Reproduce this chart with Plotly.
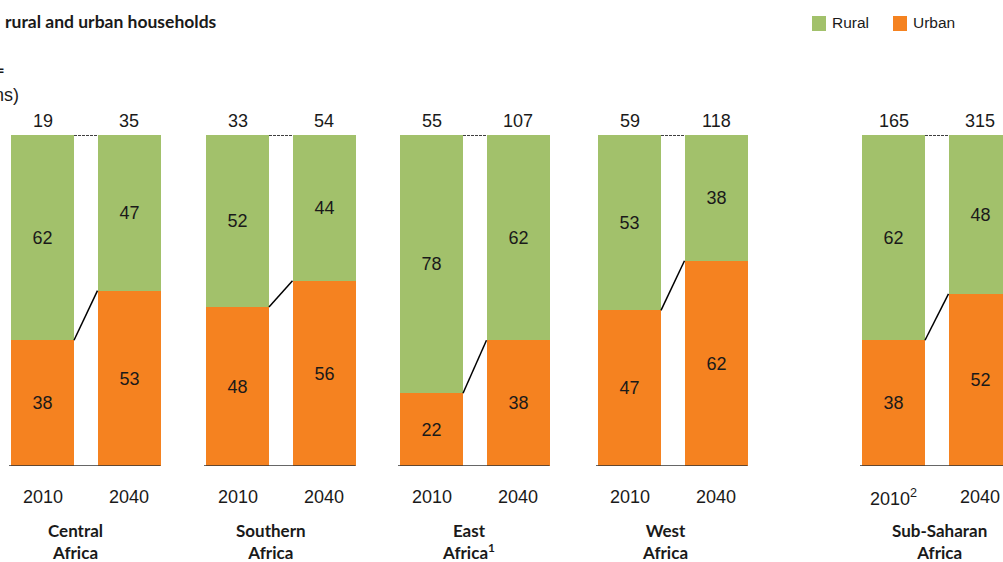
import plotly.graph_objects as go

# ---------------- data ----------------
regions = ["Central<br>Africa", "Southern<br>Africa", "East<br>Africa<sup>1</sup>",
           "West<br>Africa", "Sub-Saharan<br>Africa"]
year_labels_2010 = ["2010", "2010", "2010", "2010", "2010<sup>2</sup>"]
year_labels_2040 = ["2040", "2040", "2040", "2040", "2040"]
rural_2010 = [62, 52, 78, 53, 62]
urban_2010 = [38, 48, 22, 47, 38]
rural_2040 = [47, 44, 62, 38, 48]
urban_2040 = [53, 56, 38, 62, 52]
totals_2010 = [19, 33, 55, 59, 165]
totals_2040 = [35, 54, 107, 118, 315]

# ---------------- layout helpers ----------------
W, H = 1003, 562
M_T, M_B = 135, 96
PLOT_H = H - M_T - M_B
group_left = [11, 206, 400, 598, 862]   # left edge of each group's first bar (px)
pitch = 86.5
bw = 63
region_label_x = [75, 271, 468, 665, 939]

GREEN = "#A2C16B"
ORANGE = "#F58220"
TXT = "#1a1a1a"

x2010 = [g + bw / 2 for g in group_left]
x2040 = [g + bw / 2 + pitch for g in group_left]

def py(p):  # pixel y -> paper y
    return (H - M_B - p) / PLOT_H

fig = go.Figure()

xs = x2010 + x2040
urban = urban_2010 + urban_2040
rural = rural_2010 + rural_2040

fig.add_trace(go.Bar(x=xs, y=urban, width=bw, marker=dict(color=ORANGE, line=dict(width=0)),
                     text=[str(v) for v in urban], textposition="inside", insidetextanchor="middle",
                     textangle=0, constraintext="none",
                     textfont=dict(family="Liberation Sans, Arial", size=18, color=TXT),
                     name="Urban", showlegend=False, hoverinfo="skip"))
fig.add_trace(go.Bar(x=xs, y=rural, width=bw, marker=dict(color=GREEN, line=dict(width=0)),
                     text=[str(v) for v in rural], textposition="inside", insidetextanchor="middle",
                     textangle=0, constraintext="none",
                     textfont=dict(family="Liberation Sans, Arial", size=18, color=TXT),
                     name="Rural", showlegend=False, hoverinfo="skip"))

# baselines and connectors
for i in range(len(regions)):
    xa = x2010[i] + bw / 2
    xb = x2040[i] - bw / 2
    fig.add_trace(go.Scatter(x=[x2010[i] - bw / 2 - 2, x2040[i] + bw / 2], y=[0, 0], mode="lines",
                             line=dict(color="#333333", width=1.5), showlegend=False, hoverinfo="skip",
                             cliponaxis=False))
    fig.add_trace(go.Scatter(x=[xa, xb], y=[urban_2010[i], urban_2040[i]], mode="lines",
                             line=dict(color="black", width=1.5), showlegend=False, hoverinfo="skip"))
    fig.add_trace(go.Scatter(x=[xa, xb], y=[rural_2010[i] + urban_2010[i]] * 2, mode="lines",
                             line=dict(color="black", width=1.5, dash="3px,1px"),
                             showlegend=False, hoverinfo="skip", cliponaxis=False))

ann = []
for i in range(len(regions)):
    for x, t, yl in ((x2010[i], totals_2010[i], year_labels_2010[i]),
                     (x2040[i], totals_2040[i], year_labels_2040[i])):
        ann.append(dict(x=x, y=py(121), xref="x", yref="paper", text=str(t), showarrow=False,
                        xanchor="center", yanchor="middle",
                        font=dict(family="Liberation Sans, Arial", size=18, color=TXT)))
        ann.append(dict(x=x, y=py(497), xref="x", yref="paper", text=yl, showarrow=False,
                        xanchor="center", yanchor="middle",
                        font=dict(family="Liberation Sans, Arial", size=18, color=TXT)))
    ann.append(dict(x=region_label_x[i], y=py(541), xref="x", yref="paper",
                    text="<b>" + regions[i] + "</b>", showarrow=False,
                    xanchor="center", yanchor="middle", align="center",
                    font=dict(family="Lato", size=17, color=TXT)))

# title and axis-unit text (cropped at the left edge)
ann.append(dict(x=3 / W, y=py(21), xref="paper", yref="paper",
                text="<b>rural and urban households</b>", showarrow=False,
                xanchor="left", yanchor="middle", font=dict(family="Lato", size=17.5, color=TXT)))
ann.append(dict(x=7 / W, y=py(70), xref="paper", yref="paper",
                text="<b>100% =</b>", showarrow=False,
                xanchor="right", yanchor="middle", font=dict(family="Lato", size=17, color=TXT)))
ann.append(dict(x=21 / W, y=py(95), xref="paper", yref="paper",
                text="(millions)", showarrow=False,
                xanchor="right", yanchor="middle",
                font=dict(family="Liberation Sans, Arial", size=18, color=TXT)))

# legend
shapes = []
for sx, col, label in ((812, GREEN, "Rural"), (893, ORANGE, "Urban")):
    shapes.append(dict(type="rect", xref="paper", yref="paper",
                       x0=sx / W, x1=(sx + 14) / W, y0=py(31), y1=py(16),
                       fillcolor=col, line=dict(width=0)))
    ann.append(dict(x=(sx + 18) / W, y=py(23), xref="paper", yref="paper", text=label,
                    showarrow=False, xanchor="left", yanchor="middle",
                    font=dict(family="Liberation Sans, Arial", size=15.5, color=TXT)))

fig.update_layout(
    width=W, height=H,
    margin=dict(l=0, r=0, t=M_T, b=M_B, pad=0),
    paper_bgcolor="white", plot_bgcolor="white",
    barmode="stack", bargap=0,
    xaxis=dict(range=[0, W], visible=False, fixedrange=True),
    yaxis=dict(range=[0, 100], visible=False, fixedrange=True),
    annotations=ann, shapes=shapes,
    showlegend=False,
)

fig.write_html("out.html", config={"displayModeBar": False},
               post_script="document.body.style.margin='0';document.body.style.overflow='hidden';")
